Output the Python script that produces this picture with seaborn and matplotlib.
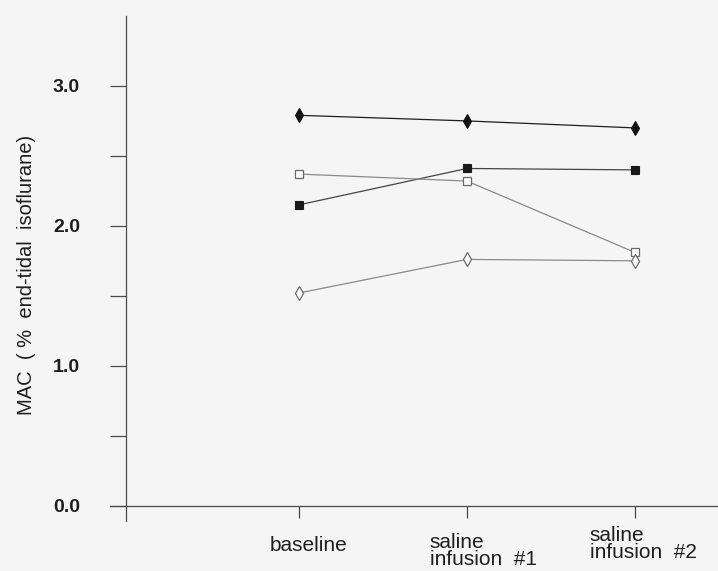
import matplotlib
matplotlib.use("Agg")
import matplotlib.pyplot as plt
from matplotlib.transforms import offset_copy
import pandas as pd
import seaborn as sns

# Study stages along the x axis
stages = ["baseline", "saline\ninfusion  #1", "saline\ninfusion  #2"]

# MAC values (% end-tidal isoflurane) for each animal
mac_filled_diamond = [2.79, 2.75, 2.70]
mac_filled_square = [2.15, 2.41, 2.40]
mac_open_square = [2.37, 2.32, 1.81]
mac_open_diamond = [1.52, 1.76, 1.75]

y_ticks = [0.0, 1.0, 2.0, 3.0]
y_tick_labels = ["0.0", "1.0", "2.0", "3.0"]
y_minor_ticks = [0.5, 1.5, 2.5]
y_label = "MAC  ( %  end-tidal  isoflurane)"

series = {
    "animal 1": mac_filled_diamond,
    "animal 2": mac_filled_square,
    "animal 3": mac_open_square,
    "animal 4": mac_open_diamond,
}

# line / marker styling per animal
styles = {
    "animal 1": dict(color="#1e1e1e", marker="d", markersize=7.6,
                     markerfacecolor="#111111", markeredgecolor="#111111",
                     markeredgewidth=0.8),
    "animal 2": dict(color="#444444", marker="s", markersize=5.2,
                     markerfacecolor="#1a1a1a", markeredgecolor="#1a1a1a",
                     markeredgewidth=0.8),
    "animal 3": dict(color="#8a8a8a", marker="s", markersize=5.2,
                     markerfacecolor="white", markeredgecolor="#6a6a6a",
                     markeredgewidth=0.9),
    "animal 4": dict(color="#8a8a8a", marker="d", markersize=7.5,
                     markerfacecolor="white", markeredgecolor="#6a6a6a",
                     markeredgewidth=0.9),
}

rows = []
for name, values in series.items():
    for pos, (stage, v) in enumerate(zip(stages, values)):
        rows.append({"animal": name, "stage": stage, "pos": pos, "mac": v})
df = pd.DataFrame(rows)

sns.set_theme(style="white")
plt.rcParams["font.family"] = ["Liberation Sans", "DejaVu Sans"]

ink = "#1e1e1e"
axis_col = "#4a4a4a"

fig = plt.figure(figsize=(7.18, 5.71), dpi=100, facecolor="#f5f5f5")
ax = fig.add_axes([110 / 718, 50 / 571, 609 / 718, 505 / 571])
ax.set_facecolor("none")

for name in series:
    sub = df[df["animal"] == name]
    sns.lineplot(data=sub, x="pos", y="mac", ax=ax, sort=False,
                 estimator=None, linewidth=0.9, legend=False,
                 **styles[name])

ax.set_xlim(-1.125, 2.5)
ax.set_ylim(-0.11, 3.5)

# axes: y spine placed just right of the x-axis start, x axis along MAC = 0
for side in ("top", "right"):
    ax.spines[side].set_visible(False)
ax.spines["left"].set_position(("data", -1.03))
ax.spines["bottom"].set_position(("data", 0.0))
for side in ("left", "bottom"):
    ax.spines[side].set_color(axis_col)
    ax.spines[side].set_linewidth(0.9)

ax.set_yticks(y_ticks, y_tick_labels)
ax.set_yticks(y_minor_ticks, minor=True)
ax.tick_params(axis="y", which="both", direction="out", length=11.5,
               width=0.9, color=axis_col, pad=21.5, labelsize=14,
               labelcolor=ink, left=True)
for lab in ax.get_yticklabels():
    lab.set_fontweight("bold")

ax.set_xticks(range(len(stages)), [""] * len(stages))
ax.tick_params(axis="x", direction="out", length=8.6, width=0.9,
               color=axis_col, bottom=True)

# stage names, left-aligned under each tick
label_offsets = [(-21, -22), (-27, -20), (-32.5, -15)]
for pos, (stage, (dx, dy)) in enumerate(zip(stages, label_offsets)):
    tr = offset_copy(ax.transData, fig=fig, x=dx, y=dy, units="points")
    ax.text(pos, 0.0, stage, transform=tr, ha="left", va="top",
            fontsize=15, linespacing=0.86, color=ink,
            multialignment="left")

ax.set_xlabel("")
ax.set_ylabel("")
fig.text(27 / 718, 1 - 275 / 571, y_label, rotation=90, ha="center",
         va="center", fontsize=14.5, color=ink)

fig.savefig("out.png", dpi=100, facecolor=fig.get_facecolor())
